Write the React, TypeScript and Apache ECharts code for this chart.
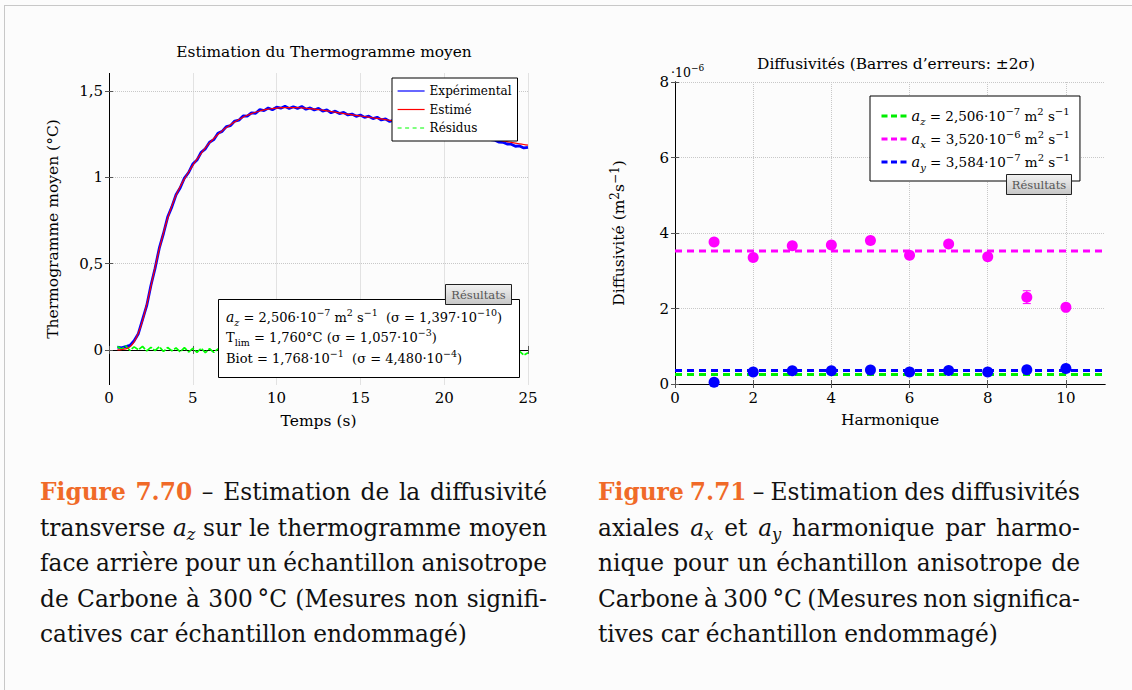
import React, { useEffect, useRef } from "react";
import * as echarts from "echarts";

// ---------- Data: left chart (Thermogramme moyen) ----------
const times = [
  0.5, 0.75, 1, 1.25, 1.5, 1.75, 2, 2.25, 2.5, 2.75,
  3, 3.25, 3.5, 3.75, 4, 4.25, 4.5, 4.75, 5, 5.25,
  5.5, 5.75, 6, 6.25, 6.5, 6.75, 7, 7.25, 7.5, 7.75,
  8, 8.25, 8.5, 8.75, 9, 9.25, 9.5, 9.75, 10, 10.25,
  10.5, 10.75, 11, 11.25, 11.5, 11.75, 12, 12.25, 12.5, 12.75,
  13, 13.25, 13.5, 13.75, 14, 14.25, 14.5, 14.75, 15, 15.25,
  15.5, 15.75, 16, 16.25, 16.5, 16.75, 17, 17.25, 17.5, 17.75,
  18, 18.25, 18.5, 18.75, 19, 19.25, 19.5, 19.75, 20, 20.25,
  20.5, 20.75, 21, 21.25, 21.5, 21.75, 22, 22.25, 22.5, 22.75,
  23, 23.25, 23.5, 23.75, 24, 24.25, 24.5, 24.75, 25,
];

const estimated = [
  0.0, 0.002, 0.006, 0.018, 0.047, 0.098, 0.168, 0.262, 0.368, 0.478,
  0.583, 0.678, 0.762, 0.834, 0.895, 0.946, 0.99, 1.03, 1.068, 1.104,
  1.138, 1.17, 1.198, 1.224, 1.247, 1.268, 1.287, 1.304, 1.32, 1.334,
  1.347, 1.358, 1.368, 1.376, 1.383, 1.389, 1.394, 1.397, 1.4, 1.402,
  1.403, 1.403, 1.403, 1.402, 1.401, 1.399, 1.397, 1.394, 1.391, 1.388,
  1.384, 1.38, 1.376, 1.372, 1.368, 1.365, 1.361, 1.358, 1.354, 1.351,
  1.347, 1.344, 1.34, 1.337, 1.333, 1.329, 1.325, 1.321, 1.317, 1.313,
  1.309, 1.304, 1.3, 1.295, 1.291, 1.287, 1.282, 1.278, 1.273, 1.269,
  1.264, 1.26, 1.255, 1.251, 1.246, 1.242, 1.237, 1.233, 1.228, 1.224,
  1.219, 1.215, 1.21, 1.206, 1.201, 1.197, 1.193, 1.189, 1.185,
];

const experimental = [
  0.016, 0.012, 0.02, 0.026, 0.053, 0.094, 0.175, 0.256, 0.373, 0.473,
  0.589, 0.674, 0.769, 0.828, 0.898, 0.939, 0.995, 1.027, 1.076, 1.099,
  1.144, 1.164, 1.202, 1.217, 1.254, 1.265, 1.293, 1.298, 1.325, 1.33,
  1.354, 1.353, 1.372, 1.37, 1.391, 1.385, 1.4, 1.39, 1.405, 1.399,
  1.41, 1.397, 1.408, 1.398, 1.409, 1.393, 1.401, 1.389, 1.398, 1.382,
  1.389, 1.373, 1.382, 1.368, 1.375, 1.36, 1.365, 1.352, 1.36, 1.346,
  1.353, 1.339, 1.347, 1.331, 1.337, 1.322, 1.331, 1.317, 1.322, 1.307,
  1.316, 1.3, 1.305, 1.289, 1.297, 1.282, 1.289, 1.272, 1.277, 1.264,
  1.27, 1.253, 1.26, 1.247, 1.253, 1.236, 1.242, 1.228, 1.234, 1.217,
  1.215, 1.203, 1.202, 1.192, 1.191, 1.179, 1.181, 1.169, 1.173,
];

const residuals = [
  0.02, 0.004, 0.024, -0.003, 0.018, 0.001, 0.021, -0.006, 0.015, -0.004,
  0.019, -0.009, 0.014, -0.005, 0.012, -0.011, 0.013, -0.012, 0.009, -0.014,
  0.01, -0.016, 0.007, -0.014, 0.006, -0.012, 0.011, -0.01, 0.012, -0.014,
  0.009, -0.011, 0.014, -0.009, 0.011, -0.012, 0.016, -0.01, 0.009, -0.014,
  0.012, -0.009, 0.011, -0.016, 0.014, -0.007, 0.012, -0.012, 0.009, -0.011,
  0.014, -0.012, 0.011, -0.009, 0.016, -0.014, 0.009, -0.011, 0.012, -0.012,
  0.011, -0.016, 0.012, -0.009, 0.014, -0.011, 0.009, -0.014, 0.011, -0.012,
  0.016, -0.009, 0.011, -0.014, 0.012, -0.011, 0.009, -0.012, 0.014, -0.016,
  0.007, -0.011, 0.012, -0.014, 0.009, -0.012, 0.011, -0.016, 0.007, -0.014,
  0.008, -0.017, 0.004, -0.019, 0.002, -0.021, -0.008, -0.03, -0.016,
];

const leftYTicks = [0, 0.5, 1, 1.5];

// ---------- Data: right chart (Diffusivités, unit 10^-6 m2/s) ----------
const harmonics = [1, 2, 3, 4, 5, 6, 7, 8, 9, 10];
const axValues = [3.76, 3.35, 3.66, 3.68, 3.8, 3.41, 3.71, 3.37, 2.3, 2.03];
const axErr2s = [0.03, 0.03, 0.03, 0.03, 0.03, 0.03, 0.03, 0.03, 0.17, 0.03];
const ayValues = [0.045, 0.32, 0.35, 0.35, 0.37, 0.32, 0.36, 0.32, 0.38, 0.41];
const ayErr2s = [0.01, 0.01, 0.01, 0.01, 0.01, 0.01, 0.01, 0.01, 0.01, 0.01];
const azMean = 0.2506;
const axMean = 3.52;
const ayMean = 0.3584;
const rightXTicks = [0, 2, 4, 6, 8, 10];

// ---------- Styles ----------
const F = '"DejaVu Serif", "Liberation Serif", serif';
const BLACK = "#000";

const richOpt = (base: number) => ({
  it: { fontFamily: F, fontSize: base + 1, fontStyle: "italic", color: BLACK, lineHeight: 20 },
  sub: { fontFamily: F, fontSize: base - 3.5, fontStyle: "italic", color: BLACK, lineHeight: 10, verticalAlign: "bottom" },
  subr: { fontFamily: F, fontSize: base - 3.5, color: BLACK, lineHeight: 10, verticalAlign: "bottom" },
  sup: { fontFamily: F, fontSize: base - 3.5, color: BLACK, lineHeight: 10, verticalAlign: "top" },
});
const richG = (base: number) => ({
  it: { fontFamily: F, fontSize: base + 1, fontStyle: "italic", fill: BLACK, lineHeight: 20 },
  sub: { fontFamily: F, fontSize: base - 3.5, fontStyle: "italic", fill: BLACK, lineHeight: 10, verticalAlign: "bottom" },
  subr: { fontFamily: F, fontSize: base - 3.5, fill: BLACK, lineHeight: 10, verticalAlign: "bottom" },
  sup: { fontFamily: F, fontSize: base - 3.5, fill: BLACK, lineHeight: 10, verticalAlign: "top" },
});

const legendLabels: Record<string, string> = {
  az: "{it|a}{sub|z} = 2,506·10{sup|−7} m{sup|2} s{sup|−1}",
  ax: "{it|a}{sub|x} = 3,520·10{sup|−6} m{sup|2} s{sup|−1}",
  ay: "{it|a}{sub|y} = 3,584·10{sup|−7} m{sup|2} s{sup|−1}",
};

const resultLines = [
  "{it|a}{sub|z} = 2,506·10{sup|−7} m{sup|2} s{sup|−1}  (σ = 1,397·10{sup|−10})",
  "T{subr|lim} = 1,760°C (σ = 1,057·10{sup|−3})",
  "Biot = 1,768·10{sup|−1}  (σ = 4,480·10{sup|−4})",
];

const tickLabel = { fontFamily: F, fontSize: 15, color: BLACK };
const axisLine = { show: true, lineStyle: { color: BLACK, width: 1 } };
const tickIn = { show: true, inside: true, length: 4, lineStyle: { color: "#555" } };
const gridDots = { show: true, lineStyle: { type: "dotted", color: "#c8c8c8", width: 1 } };
const nameStyle = { fontFamily: F, fontSize: 15.5, color: BLACK };
const hiddenSymbol = { color: "rgba(0,0,0,0)", borderColor: "rgba(0,0,0,0)", borderWidth: 0, opacity: 0 };

function tab(x: number, y: number, w: number, h: number) {
  return [
    {
      type: "rect",
      z: 120,
      shape: { x, y, width: w, height: h },
      style: {
        fill: new echarts.graphic.LinearGradient(0, 0, 0, 1, [
          { offset: 0, color: "#f2f2f2" },
          { offset: 1, color: "#c6c6c6" },
        ]),
        stroke: "#222",
        lineWidth: 1,
      },
    },
    {
      type: "text",
      z: 121,
      x: x + w / 2,
      y: y + h / 2 + 0.5,
      style: { text: "Résultats", fontFamily: F, fontSize: 11.5, fill: "#555", align: "center", verticalAlign: "middle" },
    },
  ];
}

function errorBars(color: string) {
  return (params: any, api: any) => {
    const x = api.value(0);
    const lo = api.coord([x, api.value(1)]);
    const hi = api.coord([x, api.value(2)]);
    const w = 4;
    const style = { stroke: color, lineWidth: 1 };
    return {
      type: "group",
      children: [
        { type: "line", shape: { x1: hi[0], y1: hi[1], x2: lo[0], y2: lo[1] }, style },
        { type: "line", shape: { x1: hi[0] - w, y1: hi[1], x2: hi[0] + w, y2: hi[1] }, style },
        { type: "line", shape: { x1: lo[0] - w, y1: lo[1], x2: lo[0] + w, y2: lo[1] }, style },
      ],
    };
  };
}

function buildOption(): any {
  const commaFmt = (v: number) => String(v).replace(".", ",");
  return {
    animation: false,
    backgroundColor: "transparent",
    title: [
      {
        text: "Estimation du Thermogramme moyen",
        left: 319,
        top: 39,
        textAlign: "center",
        textStyle: { fontFamily: F, fontSize: 15.4, fontWeight: "normal", color: BLACK },
      },
      {
        text: "Diffusivités (Barres d’erreurs: ±2σ)",
        left: 891,
        top: 51,
        textAlign: "center",
        textStyle: { fontFamily: F, fontSize: 15.4, fontWeight: "normal", color: BLACK },
      },
    ],
    grid: [
      { left: 109, top: 73.5, width: 419, height: 311, show: false, outerBoundsMode: "none" },
      { left: 675, top: 82, width: 430, height: 302, show: false, outerBoundsMode: "none" },
    ],
    legend: [
      {
        data: [
          { name: "Expérimental", lineStyle: { width: 1.2 } },
          { name: "Estimé", lineStyle: { width: 1.2 } },
          { name: "Résidus", lineStyle: { width: 1.2, type: [4, 3.5] } },
        ],
        orient: "vertical",
        left: 392,
        top: 78,
        padding: [7, 6, 7, 5],
        itemWidth: 27,
        itemHeight: 12,
        itemGap: 6.5,
        backgroundColor: "#fff",
        borderColor: BLACK,
        borderWidth: 1,
        borderRadius: 0,
        selectedMode: false,
        itemStyle: hiddenSymbol,
        textStyle: { fontFamily: F, fontSize: 12, color: BLACK },
      },
      {
        data: ["az", "ax", "ay"],
        orient: "vertical",
        left: 870,
        top: 96,
        padding: [10, 10, 9, 10],
        itemWidth: 25,
        itemHeight: 14,
        itemGap: 3,
        backgroundColor: "#fff",
        borderColor: BLACK,
        borderWidth: 1,
        borderRadius: 0,
        selectedMode: false,
        itemStyle: hiddenSymbol,
        lineStyle: { width: 3, type: [6, 3.5] },
        formatter: (name: string) => legendLabels[name],
        textStyle: { fontFamily: F, fontSize: 13.5, color: BLACK, lineHeight: 20, rich: richOpt(13.5) },
      },
    ],
    xAxis: [
      {
        gridIndex: 0,
        type: "value",
        position: "bottom",
        min: 0,
        max: 25,
        interval: 5,
        axisLine,
        axisTick: tickIn,
        axisLabel: { ...tickLabel, margin: 6 },
        splitLine: gridDots,
        name: "Temps (s)",
        nameLocation: "middle",
        nameGap: 28,
        nameTextStyle: nameStyle,
      },
      {
        gridIndex: 0,
        type: "value",
        position: "top",
        min: 0,
        max: 25,
        interval: 5,
        axisLine,
        axisTick: tickIn,
        axisLabel: { show: false },
        splitLine: { show: false },
      },
      {
        gridIndex: 1,
        type: "value",
        position: "bottom",
        min: 0,
        max: 11,
        axisLine,
        axisTick: { ...tickIn, customValues: rightXTicks },
        axisLabel: { ...tickLabel, margin: 6, customValues: rightXTicks },
        splitLine: gridDots,
        name: "Harmonique",
        nameLocation: "middle",
        nameGap: 28,
        nameTextStyle: nameStyle,
      },
      {
        gridIndex: 1,
        type: "value",
        position: "top",
        min: 0,
        max: 11,
        axisLine,
        axisTick: { ...tickIn, customValues: rightXTicks },
        axisLabel: { show: false, customValues: rightXTicks },
        splitLine: { show: false },
      },
    ],
    yAxis: [
      {
        gridIndex: 0,
        type: "value",
        position: "left",
        min: -0.2,
        max: 1.6,
        axisLine,
        axisTick: { ...tickIn, customValues: leftYTicks },
        axisLabel: { ...tickLabel, margin: 6, customValues: leftYTicks, formatter: commaFmt },
        splitLine: gridDots,
        name: "Thermogramme moyen (°C)",
        nameLocation: "middle",
        nameGap: 48,
        nameTextStyle: nameStyle,
      },
      {
        gridIndex: 0,
        type: "value",
        position: "right",
        min: -0.2,
        max: 1.6,
        axisLine,
        axisTick: { ...tickIn, customValues: leftYTicks },
        axisLabel: { show: false, customValues: leftYTicks },
        splitLine: { show: false },
      },
      {
        gridIndex: 1,
        type: "value",
        position: "left",
        min: 0,
        max: 8,
        interval: 2,
        axisLine,
        axisTick: tickIn,
        axisLabel: { ...tickLabel, margin: 6 },
        splitLine: gridDots,
        name: "Diffusivité (m{sup|2}s{sup|−1})",
        nameLocation: "middle",
        nameGap: 46,
        nameTextStyle: { ...nameStyle, lineHeight: 20, rich: richOpt(15.5) },
      },
      {
        gridIndex: 1,
        type: "value",
        position: "right",
        min: 0,
        max: 8,
        interval: 2,
        axisLine,
        axisTick: tickIn,
        axisLabel: { show: false },
        splitLine: { show: false },
      },
    ],
    series: [
      {
        name: "Expérimental",
        type: "line",
        xAxisIndex: 0,
        yAxisIndex: 0,
        data: times.map((t, i) => [t, experimental[i]]),
        symbol: "none",
        lineStyle: { color: "#0000ff", width: 2.8 },
        itemStyle: { color: "#0000ff" },
        z: 2,
      },
      {
        name: "Estimé",
        type: "line",
        xAxisIndex: 0,
        yAxisIndex: 0,
        data: times.map((t, i) => [t, estimated[i]]),
        symbol: "none",
        smooth: 0.3,
        lineStyle: { color: "#ff0000", width: 1.2 },
        itemStyle: { color: "#ff0000" },
        z: 3,
      },
      {
        name: "Résidus",
        type: "line",
        xAxisIndex: 0,
        yAxisIndex: 0,
        data: times.map((t, i) => [t, residuals[i]]),
        symbol: "none",
        lineStyle: { color: "#00ff00", width: 1.7, type: [8, 1.5] },
        itemStyle: { color: "#00ff00" },
        z: 2,
      },
      {
        name: "az",
        type: "line",
        xAxisIndex: 2,
        yAxisIndex: 2,
        data: [[0, azMean], [11, azMean]],
        symbol: "none",
        lineStyle: { color: "#00ee00", width: 3, type: [7, 5] },
        itemStyle: { color: "#00ee00" },
        z: 2,
      },
      {
        name: "ax",
        type: "line",
        xAxisIndex: 2,
        yAxisIndex: 2,
        data: [[0, axMean], [11, axMean]],
        symbol: "none",
        lineStyle: { color: "#ff00ff", width: 3, type: [7, 5] },
        itemStyle: { color: "#ff00ff" },
        z: 2,
      },
      {
        name: "ay",
        type: "line",
        xAxisIndex: 2,
        yAxisIndex: 2,
        data: [[0, ayMean], [11, ayMean]],
        symbol: "none",
        lineStyle: { color: "#0000ff", width: 3, type: [7, 5] },
        itemStyle: { color: "#0000ff" },
        z: 2,
      },
      {
        name: "ax points",
        type: "scatter",
        xAxisIndex: 2,
        yAxisIndex: 2,
        data: harmonics.map((h, i) => [h, axValues[i]]),
        symbolSize: 11,
        itemStyle: { color: "#ff00ff", opacity: 1 },
        z: 4,
      },
      {
        name: "ay points",
        type: "scatter",
        xAxisIndex: 2,
        yAxisIndex: 2,
        data: harmonics.map((h, i) => [h, ayValues[i]]),
        symbolSize: 11,
        itemStyle: { color: "#0000ff", opacity: 1 },
        z: 4,
      },
      {
        name: "ax err",
        type: "custom",
        xAxisIndex: 2,
        yAxisIndex: 2,
        data: harmonics.map((h, i) => [h, axValues[i] - axErr2s[i], axValues[i] + axErr2s[i]]),
        encode: { x: 0, y: [1, 2] },
        renderItem: errorBars("#ff00ff"),
        z: 5,
      },
      {
        name: "ay err",
        type: "custom",
        xAxisIndex: 2,
        yAxisIndex: 2,
        data: harmonics.map((h, i) => [h, ayValues[i] - ayErr2s[i], ayValues[i] + ayErr2s[i]]),
        encode: { x: 0, y: [1, 2] },
        renderItem: errorBars("#0000ff"),
        z: 5,
      },
    ],
    graphic: {
      elements: [
        {
          type: "rect",
          z: 100,
          shape: { x: 218.5, y: 299.5, width: 301, height: 78 },
          style: { fill: "#fff", stroke: BLACK, lineWidth: 1 },
        },
        ...resultLines.map((t, i) => ({
          type: "text",
          z: 110,
          x: 226,
          y: 317 + i * 20.5,
          style: {
            text: t,
            fontFamily: F,
            fontSize: 13,
            lineHeight: 20,
            fill: BLACK,
            align: "left",
            verticalAlign: "middle",
            rich: richG(13),
          },
        })),
        ...tab(445.5, 284.5, 66, 20),
        ...tab(1006.5, 174.5, 65, 20),
        {
          type: "text",
          z: 110,
          x: 671,
          y: 72,
          style: {
            text: "·10{sup|−6}",
            fontFamily: F,
            fontSize: 12.5,
            lineHeight: 18,
            fill: BLACK,
            align: "left",
            verticalAlign: "middle",
            rich: richG(12.5),
          },
        },
      ],
    },
  };
}

// ---------- Captions ----------
const captionLeft = [
  "*Figure *7.70 – Estimation de la diffusivité",
  "transverse a_z sur le thermogramme moyen",
  "face arrière pour un échantillon anisotrope",
  "de Carbone à 300\u2009°C (Mesures non signifi-",
  "catives car échantillon endommagé)",
];
const captionRight = [
  "*Figure *7.71 – Estimation des diffusivités",
  "axiales a_x et a_y harmonique par harmo-",
  "nique pour un échantillon anisotrope de",
  "Carbone à 300\u2009°C (Mesures non significa-",
  "tives car échantillon endommagé)",
];

function Word({ w }: { w: string }) {
  if (w.startsWith("*")) {
    return <span style={{ color: "#f06a28", fontWeight: "bold" }}>{w.slice(1)}</span>;
  }
  const m = w.match(/^(.*)a_([xyz])(.*)$/);
  if (m) {
    return (
      <span>
        {m[1]}
        <i>a</i>
        <i style={{ fontSize: "0.7em", position: "relative", top: "0.3em" }}>{m[2]}</i>
        {m[3]}
      </span>
    );
  }
  return <span>{w}</span>;
}

function Caption({ lines, left, width }: { lines: string[]; left: number; width: number }) {
  return (
    <>
      {lines.map((line, i) => {
        const last = i === lines.length - 1;
        return (
          <div
            key={i}
            style={{
              position: "absolute",
              left,
              width,
              top: 474 + i * 35.5,
              height: 36,
              lineHeight: "36px",
              display: "flex",
              justifyContent: last ? "flex-start" : "space-between",
              gap: last ? "0.3em" : 0,
              whiteSpace: "nowrap",
              fontFamily: F,
              fontSize: 23.3,
              color: "#111",
            }}
          >
            {line.split(" ").map((w, k) => (
              <Word key={k} w={w} />
            ))}
          </div>
        );
      })}
    </>
  );
}

export default function App() {
  const ref = useRef<HTMLDivElement>(null);
  useEffect(() => {
    if (!ref.current) return;
    const chart = echarts.init(ref.current, null, { renderer: "svg" });
    chart.setOption(buildOption());
    return () => chart.dispose();
  }, []);
  return (
    <div
      style={{
        position: "fixed",
        left: 0,
        top: 0,
        width: 1132,
        height: 690,
        background: "#fcfcfc",
        overflow: "hidden",
      }}
    >
      <div style={{ position: "absolute", left: 4, top: 5, width: 1128, height: 1, background: "#c8c8c8" }} />
      <div style={{ position: "absolute", left: 4, top: 5, width: 1, height: 685, background: "#c8c8c8" }} />
      <div ref={ref} style={{ position: "absolute", left: 0, top: 0, width: 1132, height: 445 }} />
      <Caption lines={captionLeft} left={40} width={507} />
      <Caption lines={captionRight} left={598} width={482} />
    </div>
  );
}
